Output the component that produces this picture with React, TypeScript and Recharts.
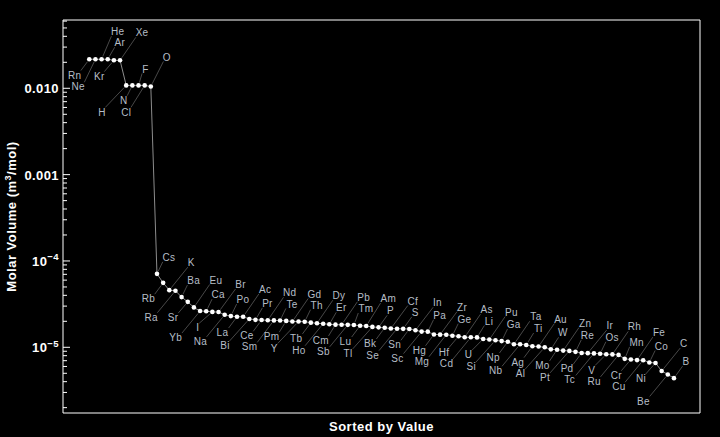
import React from 'react';
import { ComposedChart, Line, Scatter, XAxis, YAxis } from 'recharts';

// ---- data (sorted by molar volume, m^3/mol) ----
const gasElements = ['Rn', 'Ne', 'He', 'Ar', 'Kr', 'Xe', 'H', 'N', 'F', 'Cl', 'O'];
const gasVolumes = [0.0217, 0.0217, 0.0217, 0.0217, 0.0211, 0.0211, 0.0108, 0.0108, 0.0108, 0.0108, 0.0105];

const solidElements = [
  'Cs', 'Rb', 'K', 'Ra', 'Ba', 'Sr', 'Eu', 'Yb', 'Ca', 'I', 'Br', 'Na', 'Po', 'La', 'Ac', 'Bi', 'Pr', 'Ce', 'Nd', 'Sm',
  'Te', 'Pm', 'Gd', 'Y', 'Th', 'Tb', 'Dy', 'Ho', 'Er', 'Cm', 'Pb', 'Sb', 'Tm', 'Lu', 'Am', 'Tl', 'P', 'Bk', 'Cf', 'Se',
  'S', 'Sn', 'In', 'Sc', 'Pa', 'Hg', 'Zr', 'Mg', 'Ge', 'Hf', 'As', 'Cd', 'Li', 'U', 'Pu', 'Si', 'Ga', 'Np', 'Ta', 'Nb',
  'Ti', 'Ag', 'Au', 'Al', 'W', 'Mo', 'Zn', 'Pt', 'Re', 'Pd', 'Ir', 'Tc', 'Os', 'V', 'Rh', 'Ru', 'Mn', 'Cr', 'Fe', 'Cu',
  'Co', 'Ni', 'C', 'Be', 'B',
];
const solidVolumes = [
  7.094e-5, 5.576e-5, 4.594e-5, 4.52e-5, 3.816e-5, 3.36e-5, 2.897e-5, 2.63e-5, 2.62e-5, 2.572e-5,
  2.56e-5, 2.378e-5, 2.297e-5, 2.26e-5, 2.255e-5, 2.131e-5, 2.08e-5, 2.069e-5, 2.059e-5, 2.05e-5,
  2.046e-5, 2.023e-5, 1.99e-5, 1.988e-5, 1.98e-5, 1.93e-5, 1.901e-5, 1.874e-5, 1.846e-5, 1.83e-5,
  1.826e-5, 1.819e-5, 1.812e-5, 1.778e-5, 1.763e-5, 1.722e-5, 1.702e-5, 1.684e-5, 1.65e-5, 1.642e-5,
  1.635e-5, 1.629e-5, 1.576e-5, 1.52e-5, 1.518e-5, 1.409e-5, 1.402e-5, 1.4e-5, 1.363e-5, 1.344e-5,
  1.31e-5, 1.305e-5, 1.302e-5, 1.249e-5, 1.229e-5, 1.206e-5, 1.18e-5, 1.159e-5, 1.085e-5, 1.083e-5,
  1.064e-5, 1.027e-5, 1.021e-5, 1.0e-5, 9.47e-6, 9.38e-6, 9.16e-6, 9.09e-6, 8.86e-6, 8.6e-6,
  8.56e-6, 8.5e-6, 8.42e-6, 8.32e-6, 8.28e-6, 8.17e-6, 7.35e-6, 7.23e-6, 7.11e-6, 7.09e-6,
  6.67e-6, 6.59e-6, 5.31e-6, 4.85e-6, 4.39e-6,
];

// axis ticks
const majorTicks = [1e-5, 1e-4, 1e-3, 1e-2];
const majorTickLabels = ['10^\u22125', '10^\u22124', '0.001', '0.010'];
const minorMultipliers = [2, 3, 4, 5, 6, 7, 8, 9];
const tickDecades = [1e-6, 1e-5, 1e-4, 1e-3, 1e-2];

// ---- layout (callout placement) ----
const gasSlots = ['LN', 'LF', 'UF', 'UN', 'LN', 'UF', 'LF', 'LN', 'UN', 'LF', 'UF'];
const solidSlotCycle = ['UN', 'LN', 'UF', 'LF'];
const SLOT_OFFSETS: Record<string, [number, number]> = {
  UF: [22, -27.5],
  UN: [12, -16.5],
  LN: [-14.6, 15.8],
  LF: [-24.3, 26.5],
};
const LABEL_NUDGE: Record<string, [number, number]> = {
  Ne: [7, 1], He: [-6, 0], N: [6, -1], F: [-5, 0], Cl: [6, 0], O: [-6, -2],
};

const X_DOMAIN: [number, number] = [-3.27, 100.23];
const Y_DOMAIN: [number, number] = [1.734e-6, 0.0618];

const FONT = '"Liberation Sans", Arial, Helvetica, sans-serif';
const LABEL_COLOR = '#b6bec7';
const LEADER_COLOR = '#5a5a5a';
const LABEL_SIZE = 10;

const allNames = [...gasElements, ...solidElements];
const allVolumes = [...gasVolumes, ...solidVolumes];
const allSlots = [...gasSlots, ...solidElements.map((_, i) => solidSlotCycle[i % 4])];

const rows = allNames.map((name, i) => ({ x: i + 1, v: allVolumes[i], name, slot: allSlots[i] }));

const yTicks: number[] = [];
tickDecades.forEach((d) => {
  [1, ...minorMultipliers].forEach((m) => {
    const t = d * m;
    if (t >= Y_DOMAIN[0] && t <= Y_DOMAIN[1]) yTicks.push(t);
  });
});

const charW = (c: string) => {
  if ('il'.includes(c)) return 0.24;
  if ('I'.includes(c)) return 0.3;
  if ('ftr'.includes(c)) return 0.33;
  if (c === c.toUpperCase()) return c === 'M' || c === 'W' ? 0.86 : 0.68;
  if (c === 'm') return 0.85;
  return 0.56;
};
const textWidth = (s: string, size = LABEL_SIZE) => s.split('').reduce((a, c) => a + charW(c) * size, 0);

const Callout = (props: any) => {
  const { cx, cy, payload } = props;
  if (cx == null || cy == null || !payload) return null;
  const [ox, oy] = SLOT_OFFSETS[payload.slot];
  const [nx, ny] = LABEL_NUDGE[payload.name] || [0, 0];
  const lx = cx + ox + nx;
  const ly = cy + oy + ny;
  const w = textWidth(payload.name);
  const upper = oy < 0;
  const ex = upper ? lx - w / 2 : lx + w / 2;
  const ey = upper ? ly + 4.5 : ly - 4.5;
  const dx = ex - cx;
  const dy = ey - cy;
  const d = Math.hypot(dx, dy) || 1;
  const sx = cx + (dx / d) * 3;
  const sy = cy + (dy / d) * 3;
  return (
    <g>
      <line x1={sx} y1={sy} x2={ex} y2={ey} stroke={LEADER_COLOR} strokeWidth={0.8} />
      <text
        x={lx}
        y={ly + 3.6}
        textAnchor="middle"
        fontFamily={FONT}
        fontSize={LABEL_SIZE}
        letterSpacing={0.3}
        fill={LABEL_COLOR}
      >
        {payload.name}
      </text>
    </g>
  );
};

const Dot = (props: any) => {
  const { cx, cy } = props;
  if (cx == null || cy == null) return null;
  return <circle cx={cx} cy={cy} r={2.3} fill="#ffffff" />;
};

const YTick = (props: any) => {
  const { x, y, payload } = props;
  const v = payload.value;
  const mi = majorTicks.findIndex((m) => Math.abs(m - v) / m < 1e-6);
  const isMajor = mi >= 0;
  const label = isMajor ? majorTickLabels[mi] : '';
  const parts = label.split('^');
  return (
    <g>
      <line x1={x} x2={x + (isMajor ? 7 : 4)} y1={y} y2={y} stroke="#ffffff" strokeWidth={1} />
      {isMajor && (
        <text
          x={x - 4}
          y={y + 5}
          textAnchor="end"
          fontFamily={FONT}
          fontWeight="bold"
          fontSize={13}
          letterSpacing={0.4}
          fill="#ffffff"
        >
          <tspan>{parts[0]}</tspan>
          {parts[1] && (
            <tspan dy={-5.5} fontSize={9.5}>
              {parts[1]}
            </tspan>
          )}
        </text>
      )}
    </g>
  );
};

const YTitle = (props: any) => {
  const vb = props.viewBox || { x: 0, y: 20, width: 63, height: 393 };
  const tx = vb.x + 15.5;
  const ty = vb.y + vb.height / 2;
  return (
    <text
      x={tx}
      y={ty}
      transform={`rotate(-90, ${tx}, ${ty})`}
      textAnchor="middle"
      fontFamily={FONT}
      fontWeight="bold"
      fontSize={13}
      letterSpacing={0.5}
      fill="#ffffff"
    >
      <tspan>Molar Volume (m</tspan>
      <tspan dy={-5} fontSize={9}>3</tspan>
      <tspan dy={5}>/mol)</tspan>
    </text>
  );
};

const XTitle = (props: any) => {
  const vb = props.viewBox || { x: 63, y: 413, width: 637, height: 24 };
  return (
    <text
      x={vb.x + vb.width / 2}
      y={vb.y + 18}
      textAnchor="middle"
      fontFamily={FONT}
      fontWeight="bold"
      fontSize={13}
      letterSpacing={0.5}
      fill="#ffffff"
    >
      Sorted by Value
    </text>
  );
};

export default function App() {
  return (
    <div style={{ position: 'absolute', left: 0, top: 0, width: 720, height: 437, background: '#000' }}>
      <ComposedChart
        width={720}
        height={437}
        data={rows}
        margin={{ top: 19, right: 19, bottom: 0, left: 0 }}
        style={{ background: '#000' }}
      >
        <XAxis
          dataKey="x"
          type="number"
          domain={X_DOMAIN}
          allowDataOverflow
          tick={false}
          tickLine={false}
          axisLine={{ stroke: '#ffffff', strokeWidth: 1 }}
          height={24}
          label={<XTitle />}
        />
        <XAxis
          xAxisId="top"
          orientation="top"
          type="number"
          domain={[0, 1]}
          tick={false}
          tickLine={false}
          axisLine={{ stroke: '#ffffff', strokeWidth: 1 }}
          height={1}
        />
        <YAxis
          type="number"
          scale="log"
          domain={Y_DOMAIN}
          allowDataOverflow
          ticks={yTicks}
          interval={0}
          tick={<YTick />}
          tickLine={false}
          tickSize={0}
          tickMargin={0}
          axisLine={{ stroke: '#ffffff', strokeWidth: 1 }}
          width={63}
          label={<YTitle />}
        />
        <YAxis
          yAxisId="right"
          orientation="right"
          type="number"
          domain={[0, 1]}
          tick={false}
          tickLine={false}
          axisLine={{ stroke: '#ffffff', strokeWidth: 1 }}
          width={1}
        />
        <Line
          dataKey="v"
          type="linear"
          stroke="#8c8c8c"
          strokeWidth={1}
          dot={false}
          activeDot={false}
          isAnimationActive={false}
        />
        <Scatter dataKey="v" shape={<Callout />} isAnimationActive={false} />
        <Scatter dataKey="v" shape={<Dot />} isAnimationActive={false} />
      </ComposedChart>
    </div>
  );
}
